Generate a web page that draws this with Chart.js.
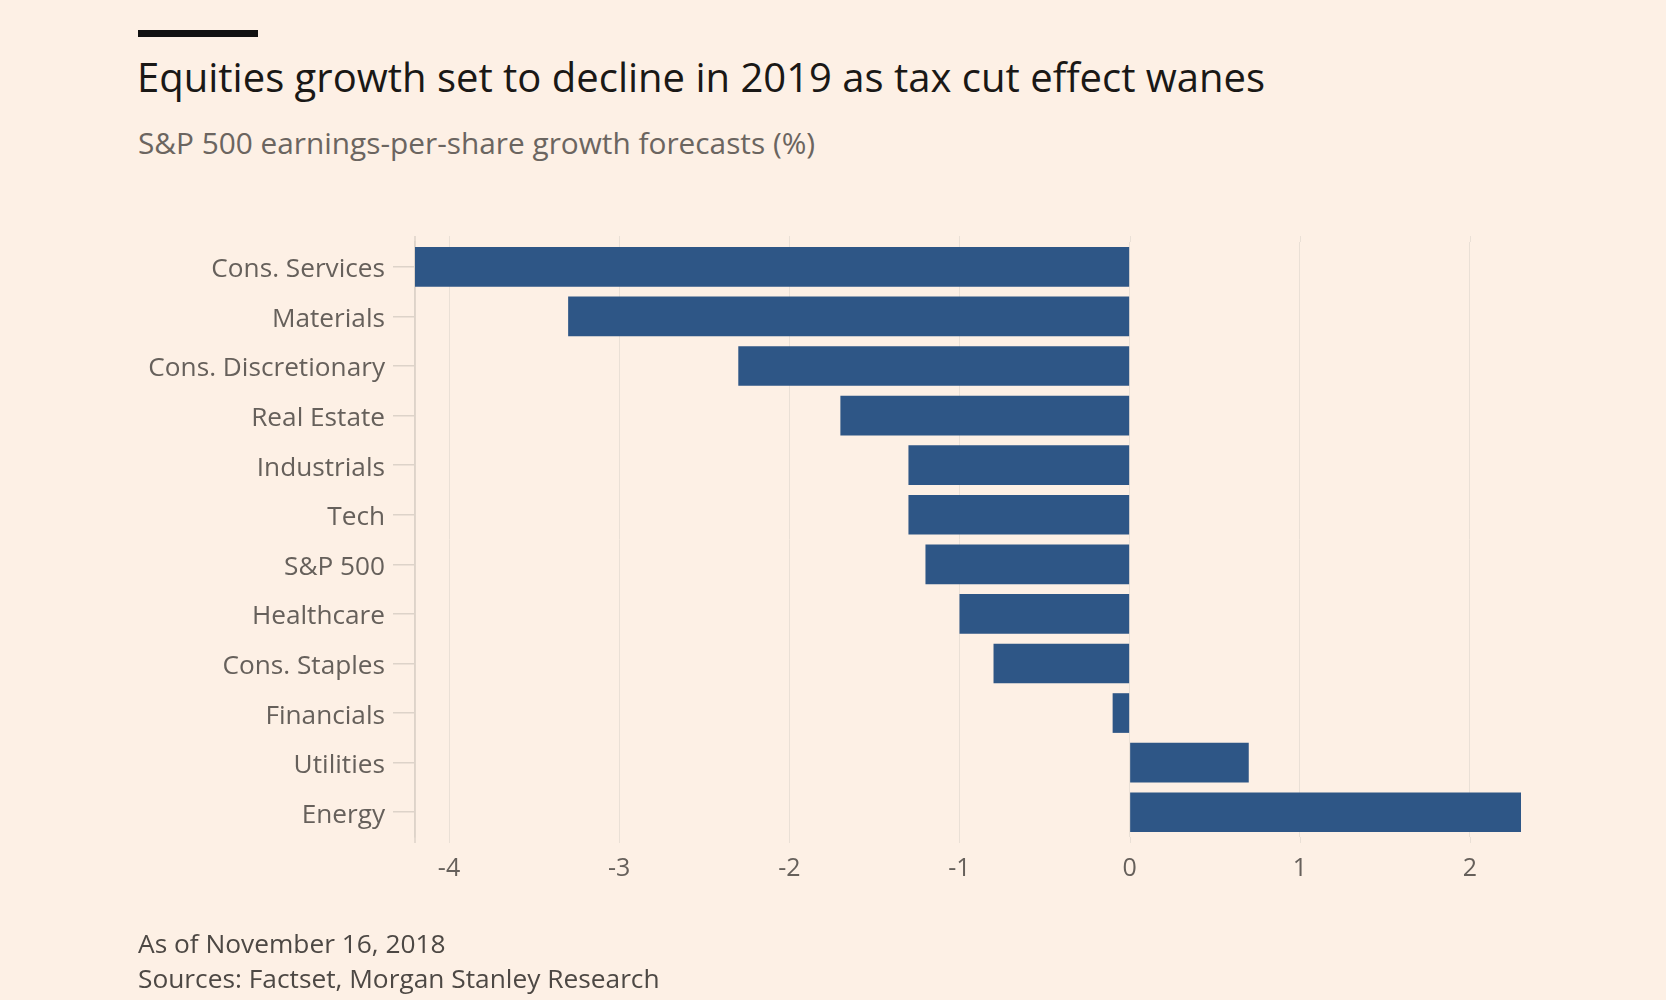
<!DOCTYPE html>
<html>
<head>
<meta charset="utf-8">
<script src="https://cdn.jsdelivr.net/npm/chart.js@4/dist/chart.umd.min.js"></script>
<style>
  html, body { margin: 0; padding: 0; background: #fdf0e5; }
  body { width: 1666px; height: 1000px; position: relative; overflow: hidden; font-family: "Open Sans", sans-serif; }
  #bar { position: absolute; left: 138px; top: 30px; width: 120px; height: 7px; background: #111; }
  #title { position: absolute; left: 137px; top: 52px; font-size: 40px; color: #1a1816; white-space: nowrap; line-height: 50px; }
  #subtitle { position: absolute; left: 138px; top: 124px; font-size: 29.8px; color: #6b6560; white-space: nowrap; line-height: 38px; }
  #note { position: absolute; left: 138px; top: 926px; font-size: 26.3px; color: #4d4844; white-space: nowrap; line-height: 35px; }
  #c { position: absolute; left: 0; top: 0; }
</style>
</head>
<body>
<div id="bar"></div>
<div id="title">Equities growth set to decline in 2019 as tax cut effect wanes</div>
<div id="subtitle">S&amp;P 500 earnings-per-share growth forecasts (%)</div>
<canvas id="c" width="1666" height="1000"></canvas>
<div id="note">As of November 16, 2018<br>Sources: Factset, Morgan Stanley Research</div>
<script>
const categories = ["Cons. Services", "Materials", "Cons. Discretionary", "Real Estate", "Industrials", "Tech", "S&P 500", "Healthcare", "Cons. Staples", "Financials", "Utilities", "Energy"];
const growthValues = [-4.2, -3.3, -2.3, -1.7, -1.3, -1.3, -1.2, -1.0, -0.8, -0.1, 0.7, 2.3];
const xTickValues = [-4, -3, -2, -1, 0, 1, 2];
const xMin = -4.2;
const xMax = 2.3;

const gridColor = '#eae0d6';
const axisColor = '#ddd3c9';
const labelColor = '#66605b';

const gridExtend = {
  id: 'gridExtend',
  beforeDatasetsDraw(chart) {
    const ctx = chart.ctx, a = chart.chartArea, xs = chart.scales.x;
    ctx.save();
    ctx.strokeStyle = gridColor;
    ctx.lineWidth = 1;
    xTickValues.forEach(v => {
      const px = Math.round(xs.getPixelForValue(v)) + 0.5;
      ctx.beginPath();
      ctx.moveTo(px, a.top - 6); ctx.lineTo(px, a.top);
      ctx.moveTo(px, a.bottom); ctx.lineTo(px, a.bottom + 6);
      ctx.stroke();
    });
    ctx.strokeStyle = axisColor;
    ctx.lineWidth = 1.5;
    ctx.beginPath();
    ctx.moveTo(a.left, a.top - 6); ctx.lineTo(a.left, a.bottom + 6);
    ctx.stroke();
    ctx.restore();
  }
};

new Chart(document.getElementById('c'), {
  type: 'bar',
  data: {
    labels: categories,
    datasets: [{
      data: growthValues,
      backgroundColor: '#2e5686',
      borderWidth: 0,
      barPercentage: 0.8,
      categoryPercentage: 1.0
    }]
  },
  options: {
    indexAxis: 'y',
    responsive: false,
    animation: false,
    layout: { padding: { left: 0, top: 242, right: 145, bottom: 103 } },
    plugins: { legend: { display: false }, tooltip: { enabled: false } },
    scales: {
      x: {
        type: 'linear',
        min: xMin,
        max: xMax,
        afterFit: s => { s.height = 60; },
        afterBuildTicks: s => { s.ticks = xTickValues.map(v => ({ value: v })); },
        ticks: {
          includeBounds: false,
          stepSize: 1,
          color: labelColor,
          font: { family: 'Open Sans', size: 25 },
          padding: 17,
          callback: v => String(v)
        },
        grid: { color: gridColor, lineWidth: 1, drawTicks: false },
        border: { display: false }
      },
      y: {
        afterFit: s => { s.width = 415; },
        ticks: {
          color: labelColor,
          font: { family: 'Open Sans', size: 26.2 },
          padding: 8,
          labelOffset: 3
        },
        grid: { drawOnChartArea: false, offset: false, tickLength: 22, tickColor: axisColor, lineWidth: 1.5 },
        border: { display: true, color: axisColor, width: 1.5 }
      }
    }
  },
  plugins: [gridExtend]
});
</script>
</body>
</html>
